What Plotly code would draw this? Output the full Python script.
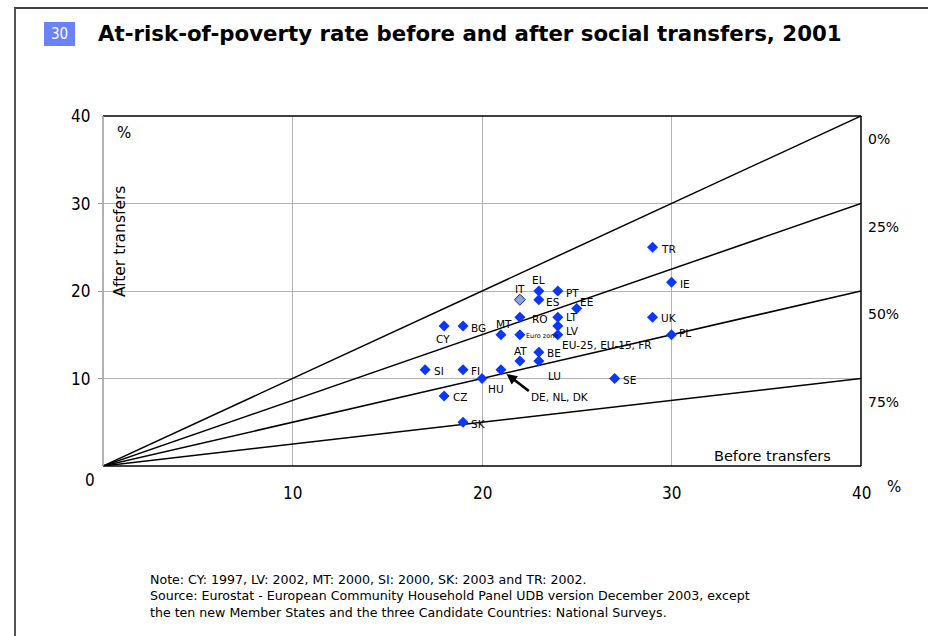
import plotly.graph_objects as go

# ---------------- data ----------------
countries = ["TR", "IE", "UK", "PL", "SE", "EL", "PT", "IT", "ES", "EE", "RO", "LT", "LV",
             "Euro zone", "MT", "EU-25, EU-15, FR", "CY", "BG", "AT", "BE", "LU", "SI",
             "FI", "DE, NL, DK", "HU", "CZ", "SK"]
before_transfers = [29, 30, 29, 30, 27, 23, 24, 22, 23, 25, 22, 24, 24,
                    22, 21, 24, 18, 19, 22, 23, 23, 17, 19, 21, 20, 18, 19]
after_transfers = [25, 21, 17, 15, 10, 20, 20, 19, 19, 18, 17, 17, 16,
                   15, 15, 15, 16, 16, 12, 13, 12, 11, 11, 11, 10, 8, 5]
highlight = "IT"
reduction_pct = [0, 25, 50, 75]          # reference lines: reduction of rate by transfers
reduction_labels = ["0%", "25%", "50%", "75%"]
x_ticks = [10, 20, 30, 40]
y_ticks = [10, 20, 30, 40]
axis_max = 40

title = "At-risk-of-poverty rate before and after social transfers, 2001"
chart_no = "30"
note_lines = [
    "Note: CY: 1997, LV: 2002, MT: 2000, SI: 2000, SK: 2003 and TR: 2002.",
    "Source: Eurostat - European Community Household Panel UDB version December 2003, except",
    "the ten new Member States and the three Candidate Countries: National Surveys.",
]

# ---------------- layout constants ----------------
W, H = 928, 636
L, R, T, B = 103, 861, 116, 466   # plot area in pixels


def px(xp):
    return (xp - L) / (R - L)


def py(yp):
    return (B - yp) / (B - T)


LABEL_FONT = "DejaVu Sans, Verdana, sans-serif"
TICK_FONT = "Liberation Sans Narrow, DejaVu Sans Condensed, Noto Sans, sans-serif"

# label placement: (xanchor, yanchor, xshift, yshift, size)
label_pos = {
    "TR": ("left", "middle", 6, -2, 10.5),
    "IE": ("left", "middle", 6, -2, 10.5),
    "UK": ("left", "middle", 6, -1, 10.5),
    "PL": ("left", "middle", 5, 2, 10.5),
    "SE": ("left", "middle", 6, -1, 10.5),
    "EL": ("center", "bottom", 0, 3, 10.5),
    "PT": ("left", "middle", 6, -2, 10.5),
    "IT": ("center", "bottom", 0, 3, 10.5),
    "ES": ("left", "middle", 5, -2, 10.5),
    "EE": ("left", "middle", 1, 7, 10.5),
    "RO": ("left", "middle", 10, -2, 10.5),
    "LT": ("left", "middle", 6, 0, 10.5),
    "LV": ("left", "middle", 6, -5, 10.5),
    "Euro zone": ("left", "middle", 4, -1, 6.5),
    "MT": ("center", "bottom", 3, 3, 10.5),
    "EU-25, EU-15, FR": ("left", "middle", 2, -10, 10.5),
    "CY": ("center", "top", -1, -5, 10.5),
    "BG": ("left", "middle", 6, -2, 10.5),
    "AT": ("center", "bottom", 1, 2, 10.5),
    "BE": ("left", "middle", 6, -1, 10.5),
    "LU": ("left", "middle", 7, -15, 10.5),
    "SI": ("left", "middle", 7, -1, 10.5),
    "FI": ("left", "middle", 6, -1, 10.5),
    "HU": ("left", "middle", 4, -10, 10.5),
    "CZ": ("left", "middle", 7, -1, 10.5),
    "SK": ("left", "middle", 6, -2, 10.5),
}

fig = go.Figure()

# reference lines
for r in reduction_pct:
    end_y = axis_max * (100 - r) / 100
    fig.add_trace(go.Scatter(x=[0, axis_max], y=[0, end_y], mode="lines",
                             line=dict(color="black", width=1.5),
                             hoverinfo="skip", showlegend=False, cliponaxis=False))

# points
colors = ["#8aa0e8" if c == highlight else "#0a36ff" for c in countries]
line_cols = ["#1a2a70" if c == highlight else "#0a36ff" for c in countries]
line_w = [1 if c == highlight else 0 for c in countries]
fig.add_trace(go.Scatter(x=before_transfers, y=after_transfers, mode="markers",
                         marker=dict(symbol="diamond", size=8.5, color=colors,
                                     line=dict(color=line_cols, width=line_w)),
                         text=countries, hoverinfo="text", showlegend=False,
                         cliponaxis=False))

ann = []
for c, xv, yv in zip(countries, before_transfers, after_transfers):
    if c not in label_pos:
        continue
    xa, ya, xs, ys, sz = label_pos[c]
    ann.append(dict(x=xv, y=yv, xref="x", yref="y", text=c, showarrow=False,
                    xanchor=xa, yanchor=ya, xshift=xs, yshift=ys,
                    font=dict(family=LABEL_FONT, size=sz, color="black")))

# DE, NL, DK label with arrow
i_de = countries.index("DE, NL, DK")
ann.append(dict(x=before_transfers[i_de], y=after_transfers[i_de], xref="x", yref="y",
                ax=22.55, ay=8.45, axref="x", ayref="y", text="", showarrow=True,
                arrowhead=2, arrowsize=0.8, arrowwidth=2.6, arrowcolor="black",
                standoff=7))
ann.append(dict(x=22.55, y=8.45, xref="x", yref="y", text="DE, NL, DK", showarrow=False,
                xanchor="left", yanchor="top", xshift=-1, yshift=3,
                font=dict(family=LABEL_FONT, size=10.5, color="black")))

# tick labels
for t in y_ticks:
    ann.append(dict(x=px(92), y=t, xref="paper", yref="y", text=str(t), showarrow=False,
                    xanchor="right", yanchor="middle",
                    font=dict(family=TICK_FONT, size=17, color="black")))
for t in x_ticks:
    ann.append(dict(x=t, y=py(493), xref="x", yref="paper", text=str(t), showarrow=False,
                    xanchor="center", yanchor="middle",
                    font=dict(family=TICK_FONT, size=17, color="black")))
ann.append(dict(x=px(90), y=py(480), xref="paper", yref="paper", text="0", showarrow=False,
                xanchor="center", yanchor="middle",
                font=dict(family=TICK_FONT, size=17, color="black")))

# reduction labels on the right
for r, lab in zip(reduction_pct, reduction_labels):
    end_y = axis_max * (100 - r) / 100
    ann.append(dict(x=px(866), y=end_y, xref="paper", yref="y", text=lab, showarrow=False,
                    xanchor="left", yanchor="middle", yshift=-23,
                    font=dict(family=LABEL_FONT, size=14, color="black")))

# axis titles and % marks
ann += [
    dict(x=px(120), y=py(242), xref="paper", yref="paper", text="After transfers",
         showarrow=False, textangle=-90, xanchor="center", yanchor="middle",
         font=dict(family=LABEL_FONT, size=15.5, color="black")),
    dict(x=px(833), y=py(456), xref="paper", yref="paper", text="Before transfers",
         showarrow=False, xanchor="right", yanchor="middle",
         font=dict(family=LABEL_FONT, size=14.5, color="black")),
    dict(x=px(115), y=py(133), xref="paper", yref="paper", text="%",
         showarrow=False, xanchor="left", yanchor="middle",
         font=dict(family=LABEL_FONT, size=15, color="black")),
    dict(x=px(885), y=py(487), xref="paper", yref="paper", text="%",
         showarrow=False, xanchor="left", yanchor="middle",
         font=dict(family=LABEL_FONT, size=15, color="black")),
]

# title
ann.append(dict(x=px(59.5), y=py(34), xref="paper", yref="paper", text=chart_no,
                showarrow=False, xanchor="center", yanchor="middle",
                font=dict(family=TICK_FONT, size=15, color="white")))
ann.append(dict(x=px(96), y=py(33), xref="paper", yref="paper", text="<b>" + title + "</b>",
                showarrow=False, xanchor="left", yanchor="middle",
                font=dict(family=LABEL_FONT, size=21.3, color="black")))

# notes (one multi-line block)
ann.append(dict(x=px(148), y=py(596), xref="paper", yref="paper",
                text="<br>".join(note_lines), align="left",
                showarrow=False, xanchor="left", yanchor="middle",
                font=dict(family=LABEL_FONT, size=12.6, color="black")))

shapes = [
    # title box
    dict(type="rect", xref="paper", yref="paper", x0=px(44), x1=px(75), y0=py(22), y1=py(46),
         fillcolor="#6a82ff", line=dict(width=0), layer="below"),
    # plot frame
    dict(type="line", xref="paper", yref="paper", x0=0, x1=1, y0=1, y1=1,
         line=dict(color="black", width=1.5)),
    dict(type="line", xref="paper", yref="paper", x0=1, x1=1, y0=0, y1=1,
         line=dict(color="black", width=1.5)),
    dict(type="line", xref="paper", yref="paper", x0=0, x1=1, y0=0, y1=0,
         line=dict(color="black", width=1.5)),
    dict(type="line", xref="paper", yref="paper", x0=0, x1=0, y0=0, y1=1,
         line=dict(color="#999999", width=1.5)),
    # outer page frame
    dict(type="line", xref="paper", yref="paper", x0=px(14), x1=px(928), y0=py(8), y1=py(8),
         line=dict(color="black", width=1.5)),
    dict(type="line", xref="paper", yref="paper", x0=px(15), x1=px(15), y0=py(8), y1=py(636),
         line=dict(color="#555555", width=2)),
]

fig.update_layout(
    width=W, height=H, autosize=False,
    margin=dict(l=L, r=W - R, t=T, b=H - B, pad=0),
    paper_bgcolor="white", plot_bgcolor="white",
    xaxis=dict(range=[0, axis_max], tickvals=x_ticks[:-1], showticklabels=False,
               showgrid=True, gridcolor="#b3b3b3", gridwidth=1, zeroline=False,
               showline=False, fixedrange=True),
    yaxis=dict(range=[0, axis_max], tickvals=y_ticks[:-1], showticklabels=False,
               showgrid=True, gridcolor="#b3b3b3", gridwidth=1, zeroline=False,
               showline=False, fixedrange=True, ticks="outside", ticklen=4,
               tickcolor="#999999"),
    annotations=ann, shapes=shapes, showlegend=False,
)

fig.write_html("out.html", config={"displayModeBar": False},
               post_script="document.body.style.margin='0px';document.body.style.overflow='hidden';")
